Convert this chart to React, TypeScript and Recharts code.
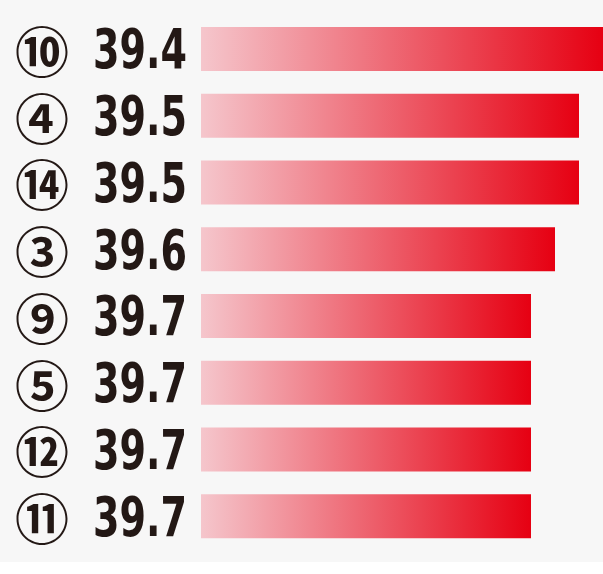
import { BarChart, Bar, XAxis, YAxis } from "recharts";

const entries = ["⑩", "④", "⑭", "③", "⑨", "⑤", "⑫", "⑪"];
const times = [39.4, 39.5, 39.5, 39.6, 39.7, 39.7, 39.7, 39.7];

// axis runs right-to-left: fastest time reaches the right edge
const AXIS_FAST = 39.4;
const AXIS_SLOW = 41.075;

const data = entries.map((name, i) => ({ name, time: times[i] }));

const INK = "#231815";

const RowLabel = (props: any) => {
  const { y, payload } = props;
  const row = data.find((d) => d.name === payload.value);
  return (
    <g>
      <text
        x={42}
        y={y}
        dominantBaseline="central"
        textAnchor="middle"
        fontFamily="'Noto Sans CJK JP'"
        fontWeight="bold"
        fontSize={54}
        fill={INK}
      >
        {payload.value}
      </text>
      <text
        x={93}
        y={y + 19}
        fontFamily="'DejaVu Sans Condensed'"
        fontWeight="bold"
        fontSize={55}
        textLength={94}
        lengthAdjust="spacingAndGlyphs"
        fill={INK}
      >
        {row ? row.time.toFixed(1) : ""}
      </text>
    </g>
  );
};

export default function App() {
  return (
    <div style={{ position: "absolute", left: 0, top: 0, width: 603, height: 562, background: "#f7f7f7" }}>
      <BarChart
        width={603}
        height={562}
        data={data}
        layout="vertical"
        margin={{ top: 16, right: 0, bottom: 12, left: 0 }}
      >
        <defs>
          <linearGradient id="barFade" x1="0" y1="0" x2="1" y2="0">
            <stop offset="0%" stopColor="#f5c6cc" />
            <stop offset="100%" stopColor="#e60012" />
          </linearGradient>
        </defs>
        <XAxis
          type="number"
          hide
          reversed
          allowDataOverflow
          domain={[AXIS_FAST, AXIS_SLOW]}
        />
        <YAxis
          type="category"
          dataKey="name"
          width={201}
          axisLine={false}
          tickLine={false}
          tick={<RowLabel />}
          interval={0}
        />
        <Bar
          dataKey={(d: any) => [d.time, AXIS_SLOW]}
          barSize={44}
          fill="url(#barFade)"
          isAnimationActive={false}
        />
      </BarChart>
    </div>
  );
}
